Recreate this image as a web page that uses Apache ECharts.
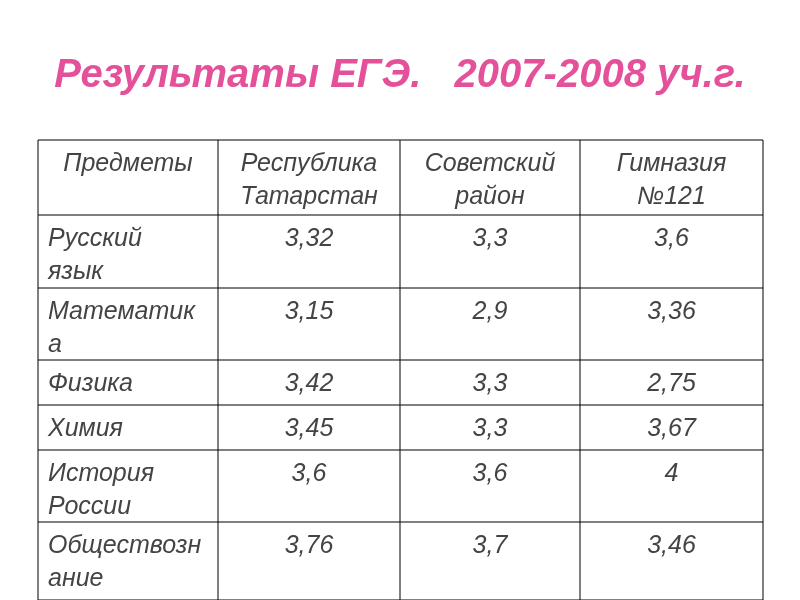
<!DOCTYPE html>
<html>
<head>
<meta charset="utf-8">
<script src="https://cdn.jsdelivr.net/npm/echarts@6/dist/echarts.min.js"></script>
<style>html,body{margin:0;padding:0;background:#fff}#main{width:800px;height:600px}</style>
</head>
<body>
<div id="main"></div>
<script>
const titleText = 'Результаты ЕГЭ.   2007-2008 уч.г.';
const headers = ['Предметы', 'Республика\nТатарстан', 'Советский\nрайон', 'Гимназия\n№121'];
const subjects = ['Русский\nязык', 'Математик\nа', 'Физика', 'Химия', 'История\nРоссии', 'Обществозн\nание'];
const tatarstan = ['3,32', '3,15', '3,42', '3,45', '3,6', '3,76'];
const sovetsky = ['3,3', '2,9', '3,3', '3,3', '3,6', '3,7'];
const gymnasium = ['3,6', '3,36', '2,75', '3,67', '4', '3,46'];

// table layout
const colX = [38, 218, 400, 580, 763];
const rowY = [140, 215, 288, 360, 405, 450, 522, 600];

const font = 'italic 25px "Liberation Sans", Arial, sans-serif';
const textColor = '#444';
const graphic = [];

graphic.push({
    type: 'text', left: 'center', top: 56,
    style: { text: titleText, font: 'italic bold 40px "Liberation Sans", Arial, sans-serif', fill: '#e5509b' }
});

// grid lines
for (const y of rowY) {
    graphic.push({ type: 'line', shape: { x1: colX[0], y1: y, x2: colX[4], y2: y }, style: { stroke: '#000', lineWidth: 1 } });
}
for (const x of colX) {
    graphic.push({ type: 'line', shape: { x1: x, y1: rowY[0], x2: x, y2: rowY[7] }, style: { stroke: '#000', lineWidth: 1 } });
}

const cell = (text, col, row, center) => {
    graphic.push({
        type: 'text',
        x: center ? (colX[col] + colX[col + 1]) / 2 : colX[col] + 10,
        y: rowY[row] + 8,
        style: { text, font, fill: textColor, align: center ? 'center' : 'left', lineHeight: 33 }
    });
};

headers.forEach((h, i) => cell(h, i, 0, true));
subjects.forEach((s, i) => {
    cell(s, 0, i + 1, false);
    cell(tatarstan[i], 1, i + 1, true);
    cell(sovetsky[i], 2, i + 1, true);
    cell(gymnasium[i], 3, i + 1, true);
});

const chart = echarts.init(document.getElementById('main'));
chart.setOption({ graphic });
</script>
</body>
</html>
